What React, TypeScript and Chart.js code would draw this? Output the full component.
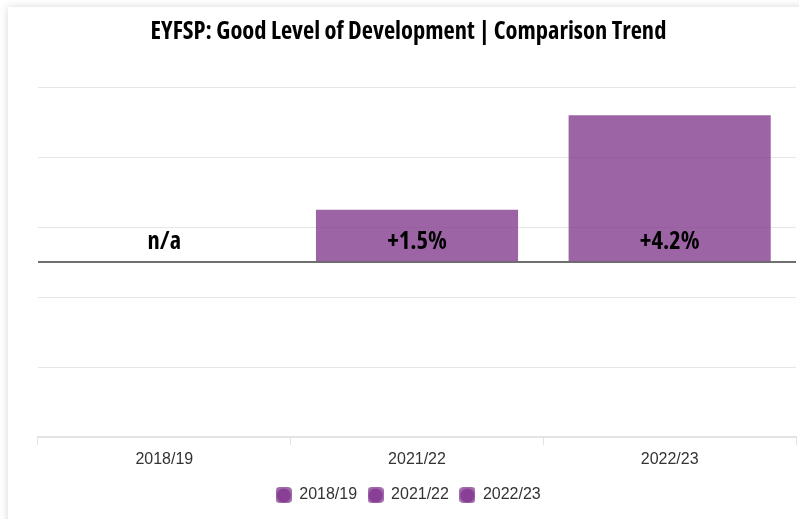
import React, { useEffect, useRef } from "react";
import { Chart, registerables } from "chart.js";

Chart.register(...registerables);

const categories = ["2018/19", "2021/22", "2022/23"];
const seriesNames = ["2018/19", "2021/22", "2022/23"];
const values: (number | null)[] = [null, 1.5, 4.2];
const valueLabels = ["n/a", "+1.5%", "+4.2%"];
const yTicks = [-5, -3, -1, 0, 1, 3, 5];
const titleText = "EYFSP: Good Level of Development | Comparison Trend";

const BAR_COLOR = "rgba(128,57,140,0.78)";

function makeLegendIcon(): HTMLCanvasElement {
  const c = document.createElement("canvas");
  c.width = 16;
  c.height = 16;
  const ctx = c.getContext("2d")!;
  ctx.fillStyle = "#a06aa9";
  ctx.beginPath();
  const r = 4;
  ctx.moveTo(r, 0);
  ctx.arcTo(16, 0, 16, 16, r);
  ctx.arcTo(16, 16, 0, 16, r);
  ctx.arcTo(0, 16, 0, 0, r);
  ctx.arcTo(0, 0, 16, 0, r);
  ctx.closePath();
  ctx.fill();
  ctx.fillStyle = "#883f95";
  ctx.beginPath();
  ctx.arc(8, 8.5, 7, 0, Math.PI * 2);
  ctx.fill();
  return c;
}

const valueLabelPlugin = {
  id: "valueLabels",
  afterDatasetsDraw(chart: any) {
    const { ctx, scales } = chart;
    const x = scales.x;
    const y = scales.y;
    const zero = y.getPixelForValue(0);
    ctx.save();
    ctx.font = "bold condensed 24.5px 'Open Sans'";
    try { (ctx as any).fontStretch = "condensed"; } catch (e) {}
    ctx.fillStyle = "#000";
    ctx.textAlign = "center";
    ctx.textBaseline = "alphabetic";
    categories.forEach((_, i) => {
      ctx.fillText(valueLabels[i], x.getPixelForValue(i), zero - 13);
    });
    ctx.restore();
  },
};

export default function App() {
  const ref = useRef<HTMLCanvasElement>(null);
  useEffect(() => {
    document.body.style.overflow = "hidden";
    const icon = makeLegendIcon();
    const datasets = seriesNames.map((name, si) => ({
      label: name,
      data: categories.map((_, ci) => (ci === si ? values[ci] : null)),
      backgroundColor: BAR_COLOR,
      borderWidth: 0,
      pointStyle: icon,
      categoryPercentage: 1,
      barPercentage: 0.8,
      skipNull: true,
    }));
    const chart = new Chart(ref.current!, {
      type: "bar",
      data: { labels: categories, datasets },
      plugins: [valueLabelPlugin],
      options: {
        animation: false,
        responsive: false,
        layout: { padding: { left: 21, right: 3, top: 0, bottom: 6 } },
        plugins: {
          tooltip: { enabled: false },
          title: {
            display: true,
            text: titleText,
            color: "#000",
            font: { family: "'Open Sans'", size: 24.5, weight: "bold condensed" as any },
            padding: { top: 17, bottom: 41 },
          },
          legend: {
            position: "bottom",
            labels: {
              usePointStyle: true,
              boxWidth: 15,
              boxHeight: 15,
              padding: 11,
              color: "#333",
              font: { family: "'Liberation Sans', Arial", size: 16 },
            },
          },
        },
        scales: {
          x: {
            grid: {
              display: true,
              drawOnChartArea: false,
              drawTicks: true,
              tickLength: 8,
              color: "#e3e3e3",
              lineWidth: 1,
              offset: true,
            },
            border: { display: true, color: "#e3e3e3", width: 2 },
            ticks: {
              color: "#333",
              padding: 5,
              font: { family: "'Liberation Sans', Arial", size: 16 },
            },
            afterFit: (s: any) => {
              s.height = 39;
            },
          },
          y: {
            min: -5,
            max: 5,
            afterBuildTicks: (s: any) => {
              s.ticks = yTicks.map((v) => ({ value: v }));
            },
            afterFit: (s: any) => {
              s.width = 17;
            },
            ticks: { display: false },
            border: { display: false },
            grid: {
              drawTicks: false,
              color: (c: any) => (c.tick && c.tick.value === 0 ? "#6f6f6f" : c.tick && c.tick.value === -5 ? "rgba(0,0,0,0)" : "#e6e6e6"),
              lineWidth: (c: any) => (c.tick && c.tick.value === 0 ? 2 : 1),
            },
          },
        },
      },
    });
    return () => chart.destroy();
  }, []);
  return (
    <div style={{ position: "fixed", left: 0, top: 0, width: 799, height: 519, overflow: "hidden" }}>
      <div
        style={{
          position: "absolute",
          left: 8,
          top: 7,
          width: 830,
          height: 560,
          background: "#fff",
          boxShadow: "0 0 8px rgba(0,0,0,0.16)",
        }}
      />
      <canvas ref={ref} width={799} height={519} style={{ position: "absolute", left: 0, top: 0 }} />
    </div>
  );
}
